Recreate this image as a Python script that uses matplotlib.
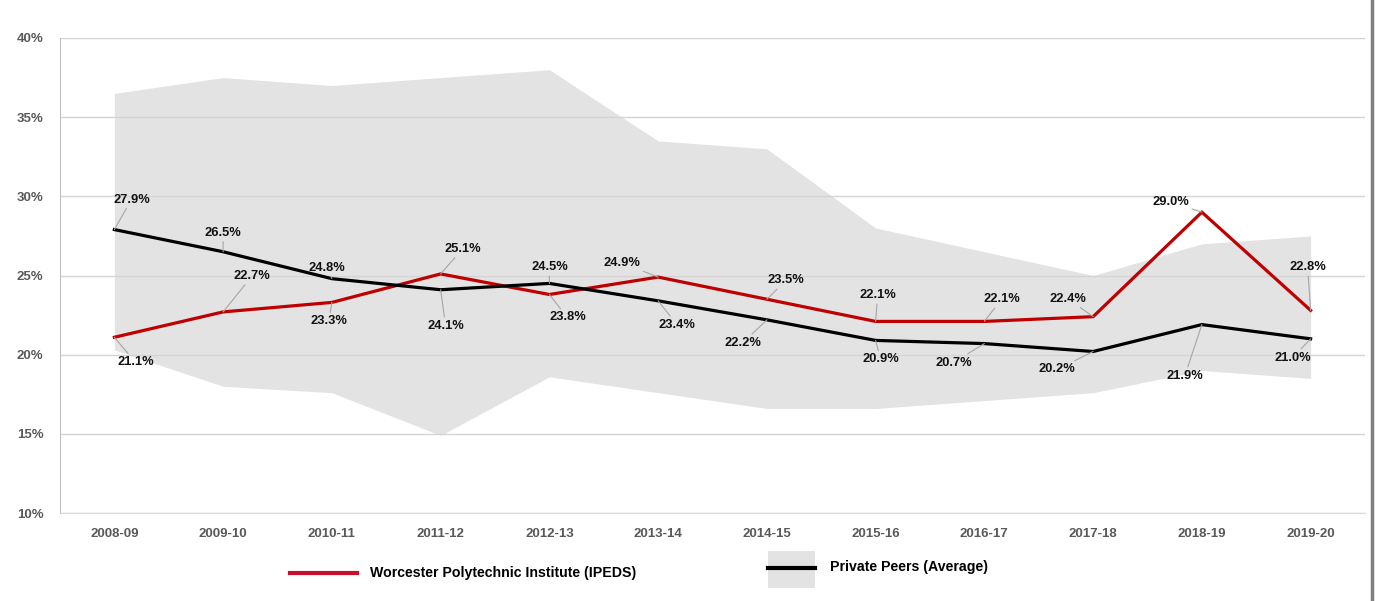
import matplotlib.pyplot as plt
from matplotlib.lines import Line2D
from matplotlib.patches import Rectangle

# Data
years = ['2008-09', '2009-10', '2010-11', '2011-12', '2012-13', '2013-14',
         '2014-15', '2015-16', '2016-17', '2017-18', '2018-19', '2019-20']
wpi = [21.1, 22.7, 23.3, 25.1, 23.8, 24.9, 23.5, 22.1, 22.1, 22.4, 29.0, 22.8]
peers_avg = [27.9, 26.5, 24.8, 24.1, 24.5, 23.4, 22.2, 20.9, 20.7, 20.2, 21.9, 21.0]
peers_max = [36.5, 37.5, 37.0, 37.5, 38.0, 33.5, 33.0, 28.0, 26.5, 25.0, 27.0, 27.5]
peers_min = [20.3, 18.0, 17.6, 14.9, 18.6, 17.6, 16.6, 16.6, 17.1, 17.6, 19.0, 18.5]

# label offsets (pixels from the point) for the data labels
wpi_off = [(21, -25), (29, 36), (-3, -19), (22, 25), (18, -23), (-36, 14),
           (19, 19), (2, 26), (17, 22), (-25, 18), (-31, 10), (-3, 43)]
avg_off = [(17, 30), (0, 19), (-5, 11), (5, -36), (0, 16), (19, -24),
           (-24, -23), (5, -19), (-31, -19), (-36, -18), (-17, -51), (-18, -19)]

label_font = ['Liberation Sans', 'DejaVu Sans']

fig = plt.figure(figsize=(13.75, 6.01), dpi=100)
ax = fig.add_axes([60/1375, 1-513/601, 1305/1375, 475/601])

x = list(range(len(years)))
ax.fill_between(x, peers_min, peers_max, color='#e3e3e3', lw=0, zorder=1)
ax.plot(x, wpi, color='#c00000', lw=2.3, zorder=3, solid_joinstyle='miter')
ax.plot(x, peers_avg, color='black', lw=2.3, zorder=3, solid_joinstyle='miter')

ax.set_xlim(-0.5, len(years) - 0.5)
ax.set_ylim(10, 40)
ax.set_yticks(range(10, 41, 5))
ax.set_yticklabels([f'{v}%' for v in range(10, 41, 5)])
ax.set_xticks(x)
ax.set_xticklabels(years)
ax.grid(axis='y', color='#d4d4d4', lw=1)
ax.tick_params(length=0, labelcolor='#595959')
ax.tick_params(axis='y', pad=12)
ax.tick_params(axis='x', pad=11)
for lab in ax.get_xticklabels() + ax.get_yticklabels():
    lab.set_family(label_font)
    lab.set_fontweight('bold')
    lab.set_fontsize(9.5)

for s in ['top', 'right']:
    ax.spines[s].set_visible(False)
ax.spines['left'].set_color('#bfbfbf')
ax.spines['bottom'].set_color('#d9d9d9')

def add_labels(vals, offs):
    for i, (v, o) in enumerate(zip(vals, offs)):
        ax.annotate(f'{v:.1f}%', (i, v), xytext=o, textcoords='offset pixels',
                    ha='center', va='center', fontsize=9.3, fontweight='bold',
                    family=label_font, color='#111111', zorder=5,
                    arrowprops=dict(arrowstyle='-', color='#a6a6a6', lw=0.8,
                                    shrinkA=0, shrinkB=0))

add_labels(wpi, wpi_off)
add_labels(peers_avg, avg_off)

# legend drawn in figure pixels
W, H = 1375, 601
fig.add_artist(Line2D([290/W, 357/W], [1-573/H, 1-573/H], color='#c8102e', lw=3))
fig.text(370/W, 1-573/H, 'Worcester Polytechnic Institute (IPEDS)', va='center',
         fontsize=10.2, fontweight='bold', family=label_font)
fig.add_artist(Rectangle((768/W, 1-588/H), 47/W, 37/H, color='#e3e3e3', lw=0))
fig.add_artist(Line2D([768/W, 815/W], [1-568/H, 1-568/H], color='black', lw=3))
fig.text(830/W, 1-567/H, 'Private Peers (Average)', va='center',
         fontsize=10.2, fontweight='bold', family=label_font)

# frame edge at the right
fig.add_artist(Line2D([1372/W, 1372/W], [0, 1], color='#7f7f7f', lw=2.5))

fig.savefig('out.png', dpi=100)
